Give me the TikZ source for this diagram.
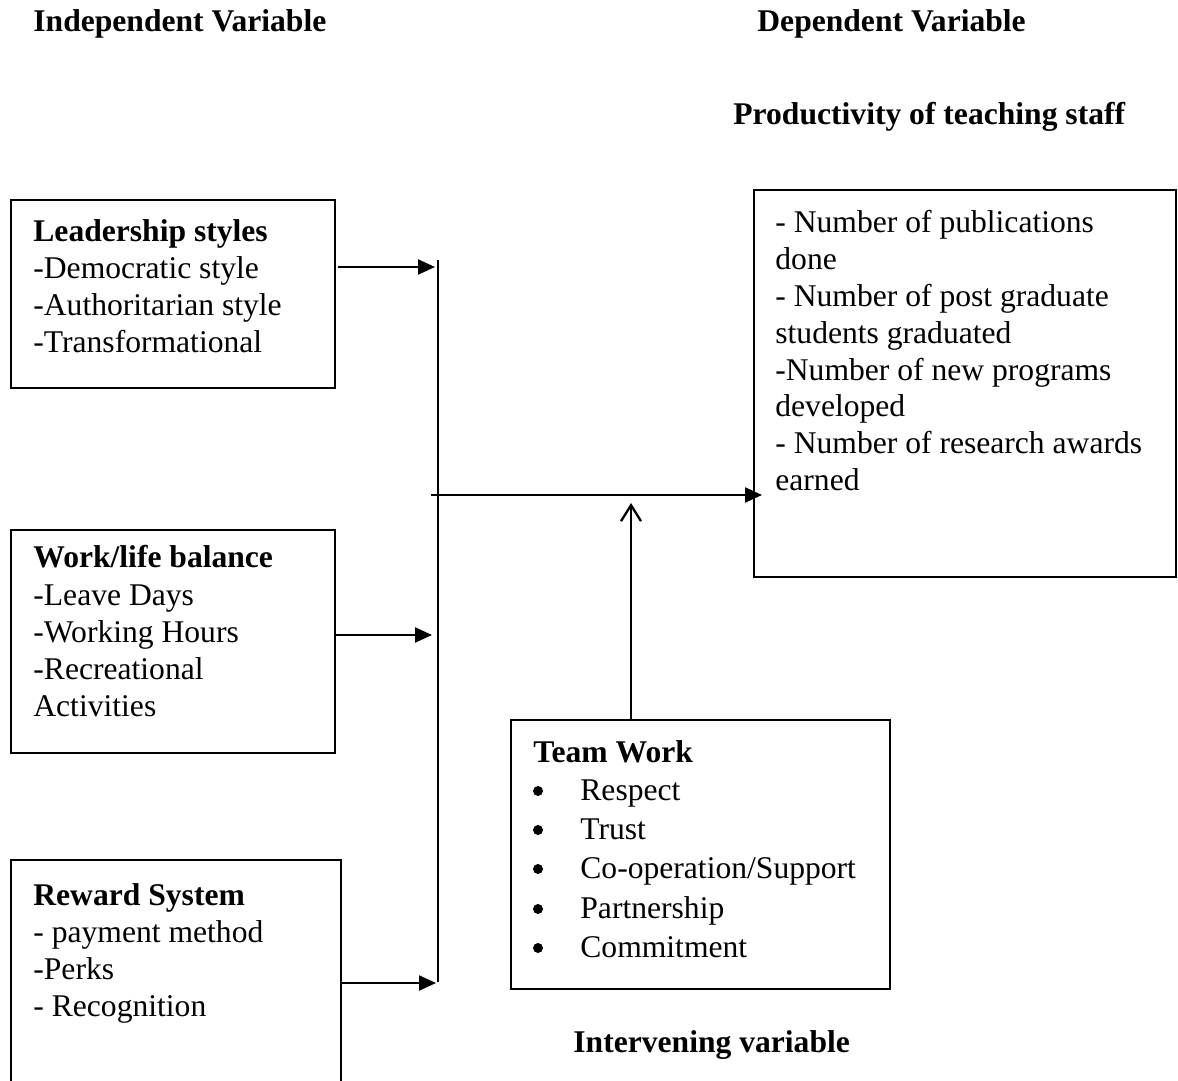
\documentclass[tikz,border=0pt]{standalone}
\usepackage{fontspec}
\setmainfont{Liberation Serif}
\usetikzlibrary{arrows.meta}
\begin{document}
\begin{tikzpicture}[x=0.5pt,y=-0.5pt,
  box/.style={draw, line width=1.15pt, rectangle, inner sep=0pt, outer sep=0pt, anchor=north west},
  txt/.style={anchor=base west, inner sep=0pt, font=\fontsize{15.8}{18.5}\selectfont},
  hd/.style={anchor=base west, inner sep=0pt, font=\fontsize{15.8}{18.5}\selectfont\bfseries},
  dot/.style={circle, fill, inner sep=0pt, minimum size=5pt},
  arr/.style={line width=1.15pt, -{Triangle[length=8.5pt,width=7.5pt]}},
  barb/.style={line width=1.15pt, -{Straight Barb[length=8pt,width=10pt]}}]
\clip (0,0) rectangle (1178,1081);
% titles
\node[hd] (tind) at (33,32) {Independent Variable};
\node[hd] (tdep) at (757,32) {Dependent Variable};
\node[hd] (tprod) at (733,125) {Productivity of teaching staff};
\node[hd] (tint) at (573,1052) {Intervening variable};
% boxes
\node[box, minimum width=162pt, minimum height=94pt] (lead) at (11,200) {};
\node[box, minimum width=162pt, minimum height=111.5pt] (work) at (11,530) {};
\node[box, minimum width=165pt, minimum height=140pt] (reward) at (11,860) {};
\node[box, minimum width=211pt, minimum height=193.5pt] (prod) at (754,190) {};
\node[box, minimum width=189.5pt, minimum height=134.5pt] (team) at (511,720) {};
% box texts
\node[hd] (l0) at (33,242) {Leadership styles};
\node[txt] (l1) at (33,278) {-Democratic style};
\node[txt] (l2) at (33,315) {-Authoritarian style};
\node[txt] (l3) at (33,352) {-Transformational};
\node[hd] (w0) at (33,567) {Work/life balance};
\node[txt] (w1) at (33,605) {-Leave Days};
\node[txt] (w2) at (33,642) {-Working Hours};
\node[txt] (w3) at (33,679) {-Recreational};
\node[txt] (w4) at (33,716) {Activities};
\node[hd] (r0) at (33,905) {Reward System};
\node[txt] (r1) at (33,942) {- payment method};
\node[txt] (r2) at (33,979) {-Perks};
\node[txt] (r3) at (33,1016) {- Recognition};
\node[txt] (p1) at (775,232) {- Number of publications};
\node[txt] (p2) at (775,269) {done};
\node[txt] (p3) at (775,306) {- Number of post graduate};
\node[txt] (p4) at (775,343) {students graduated};
\node[txt] (p5) at (775,380) {-Number of new programs};
\node[txt] (p6) at (775,416) {developed};
\node[txt] (p7) at (775,453) {- Number of research awards};
\node[txt] (p8) at (775,490) {earned};
\node[hd] (tm0) at (533,762) {Team Work};
\foreach \yy/\tt [count=\i] in {800/Respect, 839/Trust, 878/Co-operation\slash Support, 918/Partnership, 957/Commitment} {
  \node[dot] (tb\i) at (538,\yy-9) {};
  \node[txt] (ti\i) at (580,\yy) {\tt};
}
% connectors
\coordinate (bt) at (438,260);
\coordinate (bb) at (438,982);
\draw[line width=1.15pt] (bt) -- (bb);
\draw[arr, shorten <=1.5pt, shorten >=1.5pt] (lead.east |- 0,267) -- (bt |- 0,267);
\draw[arr, shorten >=3pt] (work.east |- 0,635) -- (bt |- 0,635);
\draw[arr, shorten >=1pt] (reward.east |- 0,983) -- (bt |- 0,983);
\coordinate (hs) at (431,495);
\draw[arr, shorten >=-4pt] (hs) -- (prod.west |- hs);
\coordinate (upend) at (631,503);
\draw[barb] (team.north -| upend) -- (upend);
\end{tikzpicture}
\end{document}
